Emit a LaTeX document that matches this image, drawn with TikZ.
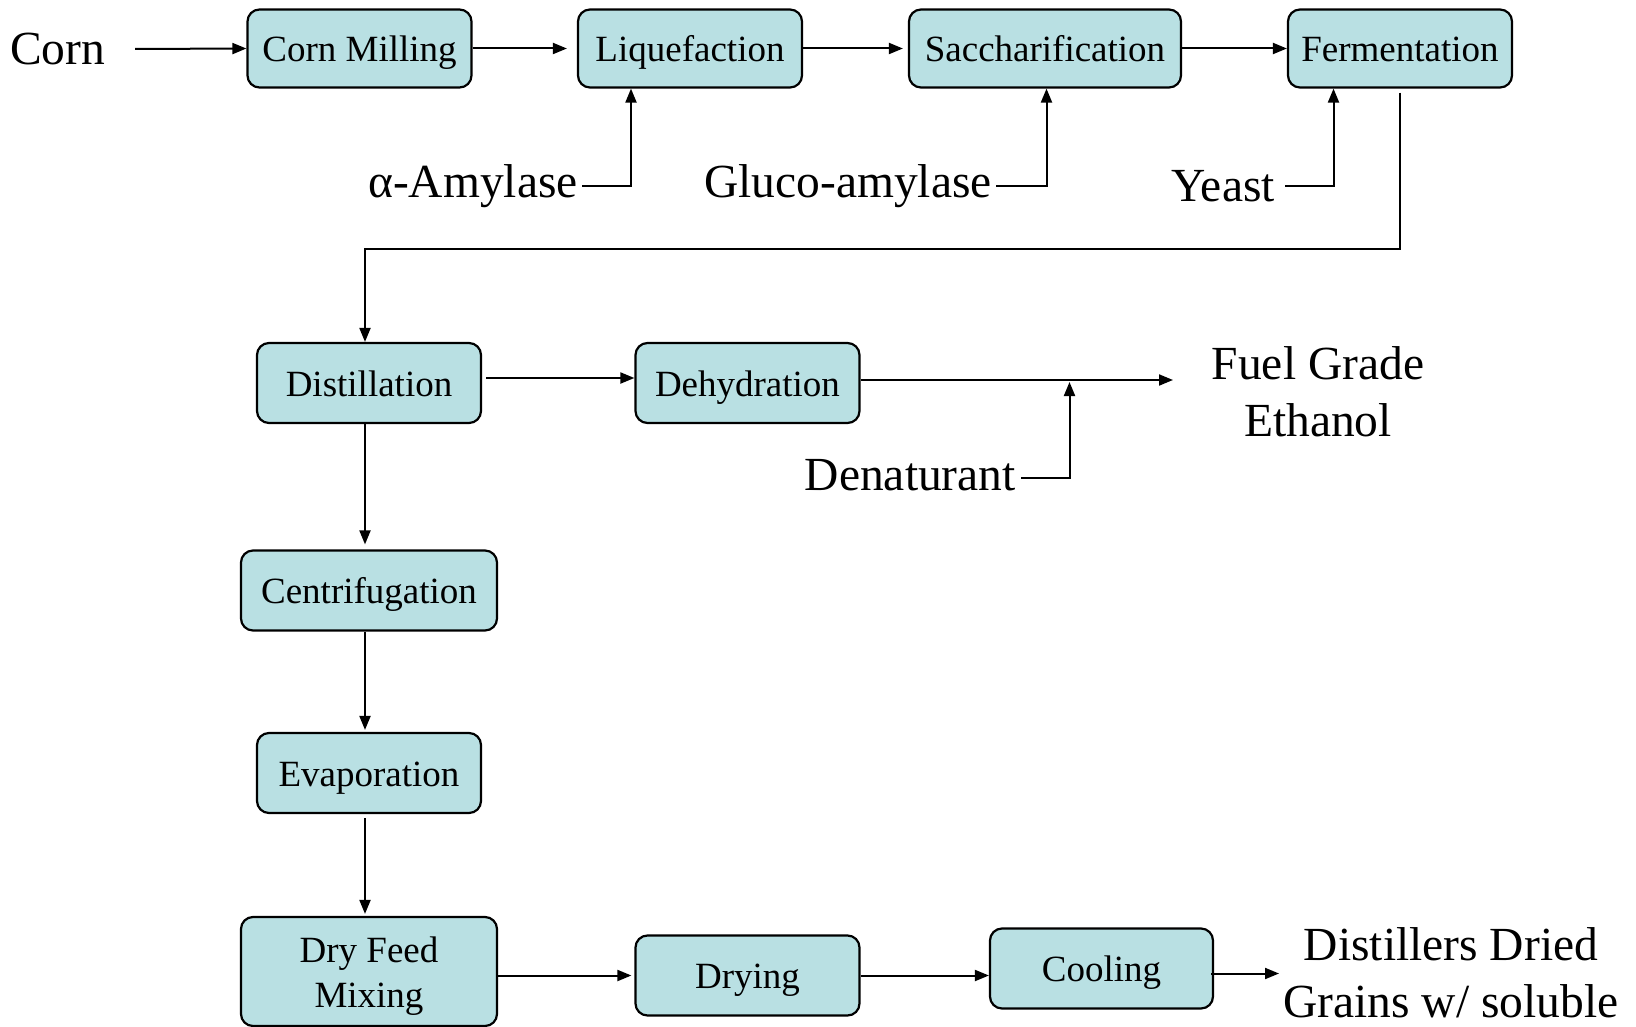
\documentclass[tikz,border=0pt]{standalone}
\usepackage{fontspec}
\setmainfont{Liberation Serif}
\usetikzlibrary{arrows.meta}
\definecolor{boxfill}{RGB}{185,224,227}

\begin{document}
\begin{tikzpicture}[x=1pt, y=-1pt,
	procbox/.style={draw, line width=2.2pt, rounded corners=12pt, fill=boxfill,
		minimum width=224pt, minimum height=78pt, inner sep=0pt, align=center,
		text height=26pt, text depth=0pt, font=\fontsize{37}{45}\selectfont},
	feed/.style={inner sep=0pt, align=center, font=\fontsize{47.5}{57}\selectfont},
	flow/.style={line width=2pt, -{Triangle[length=14pt,width=11pt]}}]
	\useasboundingbox (0,0) rectangle (1636,1027);

	\node[procbox] (milling) at (359.5, 48.5) {Corn Milling};
	\node[procbox] (liquef) at (690, 48.5) {Liquefaction};
	\node[procbox, minimum width=272pt] (sacch) at (1045, 48.5) {Saccharification};
	\node[procbox] (ferment) at (1400, 48.5) {Fermentation};
	\node[procbox, minimum height=80pt] (distill) at (369, 383) {Distillation};
	\node[procbox, minimum height=80pt] (dehyd) at (747.5, 383) {Dehydration};
	\node[procbox, minimum width=256pt, minimum height=80pt] (centrif) at (369, 590.5) {Centrifugation};
	\node[procbox, minimum height=80pt] (evap) at (369, 773) {Evaporation};
	\node[procbox, minimum width=256pt, minimum height=109pt, text height=71pt] (dryfeed) at (369, 971.5) {Dry Feed\\Mixing};
	\node[procbox, minimum height=80pt] (drying) at (747.5, 975.5) {Drying};
	\node[procbox, minimum width=223pt, minimum height=80pt] (cooling) at (1101.5, 968.5) {Cooling};

	\node[feed] (corn) at (57.5, 49) {Corn};
	\node[feed, anchor=east] (amylase) at (578, 186) {α-Amylase};
	\node[feed, anchor=east] (gluco) at (992, 186) {Gluco-amylase};
	\node[feed, anchor=east] (yeast) at (1275, 186) {Yeast};
	\node[feed, anchor=east] (denat) at (1016, 475) {Denaturant};
	\node[feed] (ethanol) at (1318, 391.5) {Fuel Grade\\Ethanol};
	\node[feed] (ddgs) at (1451, 973) {Distillers Dried\\Grains w/ soluble};

	\coordinate (ethout) at (1173, 380);
	\coordinate (mix) at (1069.5, 380);
	\coordinate (ddgsin) at (1279, 973.5);

	\draw[flow] ([xshift=30pt]corn.east) -- (milling.west);
	\draw[flow] (milling.east) -- ([xshift=-10pt]liquef.west);
	\draw[flow] (liquef.east) -- ([xshift=-5pt]sacch.west);
	\draw[flow] (sacch.east) -- (ferment.west);
	\draw[flow] ([xshift=4pt]amylase.east) -| ([xshift=-59pt]liquef.south);
	\draw[flow] ([xshift=4pt]gluco.east) -| ([xshift=1.5pt]sacch.south);
	\draw[flow] ([xshift=10pt]yeast.east) -| ([xshift=-66.5pt]ferment.south);
	\draw[flow, shorten <=4pt] (ferment.south) -- ++(0,160) -| ([xshift=-4pt]distill.north);

	\draw[flow, shorten <=4pt] ([yshift=5pt]distill.east) -- ([yshift=5pt]dehyd.west);
	\draw[flow] ([yshift=3pt]dehyd.east) -- (ethout);
	\draw[flow, shorten >=2pt] ([xshift=5pt,yshift=-3pt]denat.east) -| (mix);

	\draw[flow, shorten >=5pt] ([xshift=-4pt]distill.south) -- ([xshift=-4pt]centrif.north);
	\draw[flow, shorten >=2pt] ([xshift=-4pt]centrif.south) -- ([xshift=-4pt]evap.north);
	\draw[flow, shorten <=4pt, shorten >=2pt] ([xshift=-4pt]evap.south) -- ([xshift=-4pt]dryfeed.north);
	\draw[flow, shorten >=3pt] (dryfeed.east |- drying.west) -- (drying.west);
	\draw[flow] (drying.east) -- (cooling.west |- drying.east);
	\draw[flow] ([xshift=-3pt,yshift=-5pt]cooling.east) -- (ddgsin);
\end{tikzpicture}
\end{document}
